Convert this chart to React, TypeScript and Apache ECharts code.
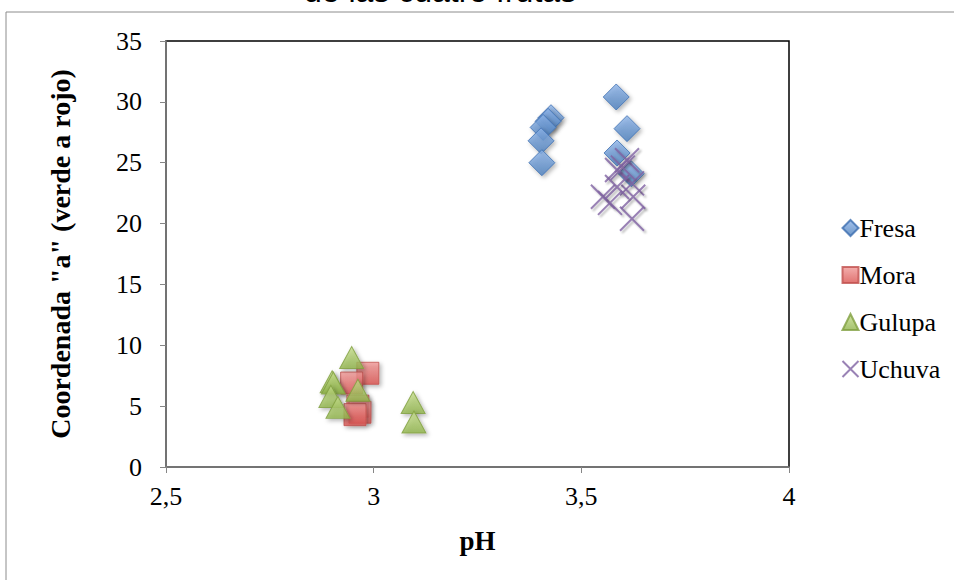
import React, { useEffect, useRef } from "react";
import * as echarts from "echarts";

const titleText = "de las cuatro frutas";
const xAxisName = "pH";
const yAxisName = 'Coordenada "a" (verde a rojo)';
const seriesNames = ["Fresa", "Mora", "Gulupa", "Uchuva"];

const fresa: [number, number][] = [
  [3.584, 30.4], [3.61, 27.8], [3.586, 25.8], [3.62, 24.1],
  [3.427, 28.7], [3.42, 28.4], [3.408, 27.9], [3.403, 26.8], [3.405, 25.0],
];
const mora: [number, number][] = [
  [2.986, 7.7], [2.947, 6.9], [2.962, 5.0], [2.967, 4.5], [2.955, 4.3],
];
const gulupa: [number, number][] = [
  [2.947, 9.0], [2.9, 7.0], [2.903, 6.9], [2.897, 5.8], [2.914, 4.9],
  [2.962, 6.3], [3.095, 5.3], [3.097, 3.7],
];
const uchuva: [number, number][] = [
  [3.61, 25.2], [3.586, 24.4], [3.622, 23.3], [3.552, 22.2], [3.569, 21.7],
  [3.625, 22.2], [3.622, 20.4], [3.586, 23.0], [3.6, 24.6],
];

const serif = "Liberation Serif";
const shadow = {
  shadowBlur: 4,
  shadowColor: "rgba(0,0,0,0.35)",
  shadowOffsetX: 2,
  shadowOffsetY: 2,
};

export default function App() {
  const ref = useRef<HTMLDivElement>(null);
  useEffect(() => {
    if (!ref.current) return;
    const chart = echarts.init(ref.current, undefined, { renderer: "svg" });
    const grad = (a: string, b: string) =>
      new echarts.graphic.LinearGradient(0, 0, 0, 1, [
        { offset: 0, color: a },
        { offset: 1, color: b },
      ]);
    chart.setOption({
      animation: false,
      backgroundColor: "#fff",
      graphic: [
        {
          type: "rect",
          shape: { x: 6, y: 12, width: 1200, height: 1000 },
          style: { fill: "none", stroke: "#8c8c8c", lineWidth: 1 },
          z: -10,
        },
        {
          type: "text",
          x: 440,
          y: -9,
          style: {
            text: titleText,
            font: "32px 'Liberation Sans'",
            fill: "#000",
            align: "center",
            verticalAlign: "middle",
          },
        },
      ],
      grid: {
        left: 166,
        top: 41,
        width: 623,
        height: 426,
        show: true,
        borderColor: "#000",
        borderWidth: 1.5,
        backgroundColor: "transparent",
      },
      legend: {
        orient: "vertical",
        left: 835,
        top: 210,
        itemGap: 21,
        itemWidth: 16,
        itemHeight: 16,
        data: seriesNames,
        textStyle: { fontFamily: serif, fontSize: 26, color: "#000", padding: [0, 0, 0, -4] },
      },
      xAxis: {
        type: "value",
        min: 2.5,
        max: 4,
        interval: 0.5,
        name: xAxisName,
        nameLocation: "middle",
        nameGap: 60,
        nameTextStyle: { fontFamily: serif, fontSize: 27, fontWeight: "bold", color: "#000" },
        axisLine: { show: true, lineStyle: { color: "#868686", width: 1.5 } },
        axisTick: { show: true, inside: false, length: 6, lineStyle: { color: "#868686" } },
        splitLine: { show: false },
        axisLabel: {
          fontFamily: serif,
          fontSize: 26,
          color: "#000",
          margin: 16,
          formatter: (v: number) => String(v).replace(".", ","),
        },
      },
      yAxis: {
        type: "value",
        min: 0,
        max: 35,
        interval: 5,
        name: yAxisName,
        nameLocation: "middle",
        nameGap: 92,
        nameTextStyle: { fontFamily: serif, fontSize: 28, fontWeight: "bold", color: "#000" },
        axisLine: { show: true, lineStyle: { color: "#868686", width: 1.5 } },
        axisTick: { show: true, inside: false, length: 6, lineStyle: { color: "#868686" } },
        splitLine: { show: false },
        axisLabel: { fontFamily: serif, fontSize: 26, color: "#000", margin: 24 },
      },
      series: [
        {
          name: seriesNames[0],
          type: "scatter",
          symbol: "diamond",
          symbolSize: [26, 26],
          data: fresa,
          itemStyle: { color: grad("#8db3e8", "#4a7ebb"), borderColor: "#3c6eb0", borderWidth: 1, ...shadow },
        },
        {
          name: seriesNames[1],
          type: "scatter",
          symbol: "rect",
          symbolSize: 22,
          data: mora,
          itemStyle: { color: grad("#f09a98", "#d9514e"), borderColor: "#c0504d", borderWidth: 1, ...shadow },
        },
        {
          name: seriesNames[2],
          type: "scatter",
          symbol: "triangle",
          symbolSize: [24, 22],
          data: gulupa,
          itemStyle: { color: grad("#c4dc8a", "#8fb34a"), borderColor: "#7f9f3f", borderWidth: 1, ...shadow },
        },
        {
          name: seriesNames[3],
          type: "scatter",
          symbol: "path://M0,0 L10,10 M10,0 L0,10",
          symbolSize: 24,
          data: uchuva,
          itemStyle: { color: "none", borderColor: "#7f63a3", borderWidth: 2, ...shadow, shadowBlur: 2 },
        },
      ],
    });
    return () => chart.dispose();
  }, []);
  return (
    <div
      ref={ref}
      style={{ position: "fixed", left: 0, top: 0, width: 954, height: 580 }}
    />
  );
}
